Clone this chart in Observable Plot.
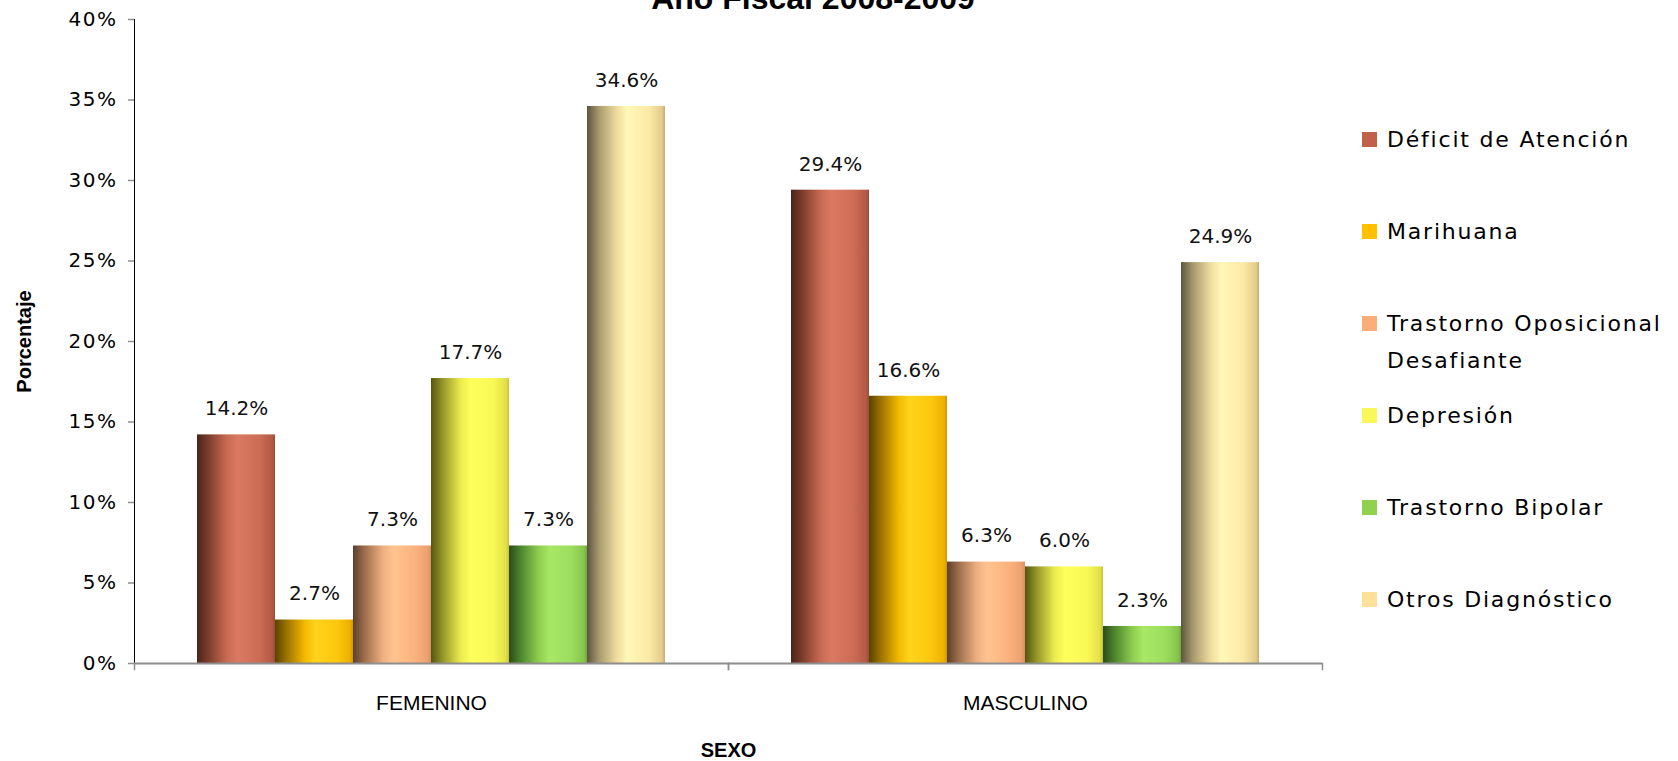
<!DOCTYPE html>
<html>
<head>
<meta charset="utf-8">
<script src="https://cdn.jsdelivr.net/npm/d3@7"></script>
<script src="https://cdn.jsdelivr.net/npm/@observablehq/plot@0.6"></script>
<style>
  html, body { margin: 0; padding: 0; background: #fff; }
  body { width: 1678px; height: 761px; overflow: hidden; position: relative; font-family: "DejaVu Sans", sans-serif; color: #000; }
  #chart { position: absolute; left: 0; top: 0; }
  #title { position: absolute; left: 413px; width: 800px; top: -18px; text-align: center;
           font-family: "Liberation Sans", Arial, sans-serif; font-weight: bold; font-size: 32px; line-height: 32px; white-space: nowrap; }
  #legend { position: absolute; left: 1362px; top: 93px; }
  .item { display: flex; align-items: flex-start; height: 92px; box-sizing: border-box; padding-top: 27.5px; }
  .sw { width: 15px; height: 15px; margin-top: 11px; flex: none; }
  .lt { margin-left: 10px; width: 296px; font-size: 22px; line-height: 37px; letter-spacing: 1.8px; }
  #chart [aria-label^="y-axis"] line, #chart [aria-label^="y-axis"] path,
  #chart [aria-label^="fx-axis"] line, #chart [aria-label^="fx-axis"] path { stroke: #8e8e8e; stroke-width: 1.5px; }
  #chart [aria-label="y-axis"] .tick text, #chart [aria-label="y-axis tick label"] text { letter-spacing: 1.5px; font-size: 20px; font-family: "DejaVu Sans", sans-serif; }
  #chart [aria-label="fx-axis"] .tick text, #chart [aria-label="fx-axis tick label"] text { font-size: 21px; font-family: "Liberation Sans", Arial, sans-serif; }
  #chart [aria-label="y-axis"] > text, #chart [aria-label="y-axis label"] text,
  #chart [aria-label="fx-axis"] > text, #chart [aria-label="fx-axis label"] text { font-family: "Liberation Sans", Arial, sans-serif; font-weight: bold; font-size: 20px; }
  #chart [aria-label="valores"] text { letter-spacing: 1.5px; }
</style>
</head>
<body>
<div id="title">Año Fiscal 2008-2009</div>
<div id="chart"></div>
<div id="legend"></div>
<script>
// ---- data ----
const sexos = ["FEMENINO", "MASCULINO"];
const diagnosticos = [
  "Déficit de Atención",
  "Marihuana",
  "Trastorno Oposicional Desafiante",
  "Depresión",
  "Trastorno Bipolar",
  "Otros Diagnóstico"
];
const valoresFemenino = [14.2, 2.7, 7.3, 17.7, 7.3, 34.6];
const valoresMasculino = [29.4, 16.6, 6.3, 6.0, 2.3, 24.9];
const yTicks = [0, 5, 10, 15, 20, 25, 30, 35, 40];

// ---- styles ----
const swatchColors = ["#c0614a", "#ffc000", "#fbad7a", "#f8f85a", "#92d050", "#fde19b"];
const gradientStops = [
  [[0, "#4a2419"], [0.15, "#7e3d2c"], [0.38, "#c86a53"], [0.52, "#db7962"], [0.8, "#cd6c55"], [0.96, "#b35a45"], [1, "#9a4c3a"]],
  [[0, "#5a4300"], [0.15, "#9c7200"], [0.38, "#f2b900"], [0.52, "#ffd31c"], [0.8, "#fcc70c"], [0.96, "#eeb000"], [1, "#d09800"]],
  [[0, "#5c3f2c"], [0.15, "#9e6e4c"], [0.38, "#eeae80"], [0.52, "#ffc48f"], [0.8, "#fbb17e"], [0.96, "#eca070"], [1, "#d88e60"]],
  [[0, "#55560f"], [0.15, "#959628"], [0.38, "#ebeb4f"], [0.52, "#ffff5c"], [0.8, "#f8f856"], [0.96, "#e2e048"], [1, "#c8c43a"]],
  [[0, "#2b4b1b"], [0.15, "#4d862c"], [0.38, "#8ecd50"], [0.52, "#a8e866"], [0.8, "#9ddd5e"], [0.96, "#86c44c"], [1, "#70a83e"]],
  [[0, "#5c5440"], [0.15, "#a6986c"], [0.38, "#eedc9e"], [0.52, "#fff8b8"], [0.8, "#fce9a6"], [0.96, "#e4cc8a"], [1, "#c4ac76"]]
];

const rows = sexos.flatMap((s, i) =>
  diagnosticos.map((d, j) => ({
    sexo: s,
    diag: d,
    value: (i === 0 ? valoresFemenino : valoresMasculino)[j]
  }))
);

const chart = Plot.plot({
  width: 1340,
  height: 761,
  marginTop: 19,
  marginBottom: 98,
  marginLeft: 133,
  marginRight: 18,
  style: { fontFamily: "DejaVu Sans, sans-serif", fontSize: "20px", color: "#000", background: "transparent", overflow: "visible" },
  facet: { data: rows, x: "sexo" },
  fx: { domain: sexos, padding: 0, tickSize: 0, tickPadding: 32, label: "SEXO", labelAnchor: "center", labelOffset: 93, labelArrow: false },
  x: { domain: diagnosticos, paddingInner: 0, paddingOuter: 0.8, axis: null },
  y: { domain: [0, 40], ticks: yTicks, tickFormat: d => d + "%", tickSize: 6, tickPadding: 11, line: true,
       label: "Porcentaje", labelAnchor: "center", labelOffset: 118, labelArrow: false },
  color: { type: "identity" },
  marks: [
    Plot.barY(rows, { x: "diag", y: "value", fill: d => `url(#grad${diagnosticos.indexOf(d.diag)})` }),
    Plot.text(rows, { x: "diag", y: "value", text: d => d.value.toFixed(1) + "%", dy: -26, fontSize: 20, fill: "#111", ariaLabel: "valores" }),
    Plot.ruleY([0], { stroke: "#8e8e8e", strokeWidth: 2 }),
    Plot.frame({ anchor: "left", stroke: "#8e8e8e", strokeWidth: 1.5, insetTop: 644, insetBottom: -6 }),
    Plot.frame({ anchor: "right", stroke: "#8e8e8e", strokeWidth: 1.5, insetTop: 644, insetBottom: -6 })
  ]
});

document.getElementById("chart").appendChild(chart);
const svg = chart.tagName.toLowerCase() === "svg" ? chart : chart.querySelector("svg");
const defs = d3.select(svg).insert("defs", ":first-child");
gradientStops.forEach((stops, j) => {
  const g = defs.append("linearGradient").attr("id", "grad" + j)
    .attr("x1", 0).attr("x2", 1).attr("y1", 0).attr("y2", 0);
  stops.forEach(([o, c]) => g.append("stop").attr("offset", o).attr("stop-color", c));
});

// legend
const legend = d3.select("#legend");
diagnosticos.forEach((d, j) => {
  const item = legend.append("div").attr("class", "item");
  item.append("div").attr("class", "sw").style("background", swatchColors[j]);
  item.append("div").attr("class", "lt").text(d);
});
</script>
</body>
</html>
